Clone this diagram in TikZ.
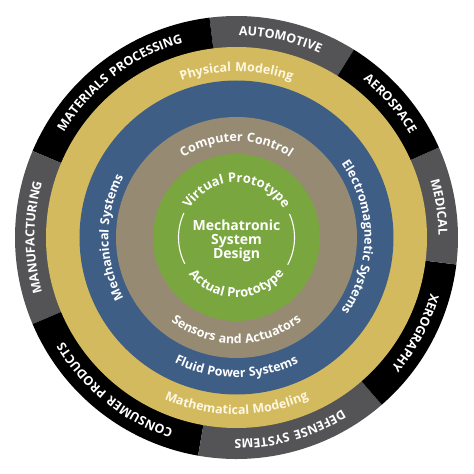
\documentclass[tikz,border=0pt]{standalone}
\usepackage{fontspec}
\setmainfont{Open Sans}
\newfontfamily\ringfont{Open Sans}[LetterSpace=12]
\newfontfamily\bandfont{Open Sans}[LetterSpace=4]
\usepackage{tikz}
\usetikzlibrary{decorations.text}
\definecolor{SegBlack}{RGB}{0,0,0}
\definecolor{SegGray}{RGB}{84,84,86}
\definecolor{Gold}{RGB}{212,186,94}
\definecolor{Slate}{RGB}{62,94,134}
\definecolor{Taupe}{RGB}{150,138,114}
\definecolor{Leaf}{RGB}{122,166,64}
\definecolor{Cream}{RGB}{255,248,225}
\newcommand\outerfmt{\ringfont\bfseries\fontsize{12.5}{12.5}\selectfont\color{white}}
\newcommand\ringfmt{\bandfont\bfseries\fontsize{12.5}{12.5}\selectfont\color{white}}
\newcommand\goldfmt{\bandfont\bfseries\fontsize{12.5}{12.5}\selectfont\color{Cream}}
\newcommand\leaffmt{\bandfont\bfseries\fontsize{13}{13}\selectfont\color{white}}

\begin{document}
\begin{tikzpicture}[x=1pt, y=1pt,
	arctext/.style={decorate, decoration={text along path, text align=center, text={#1}}}]
	\useasboundingbox (-236.5,-236.5) rectangle (237.5,237.5);
	\fill[SegGray] (0,0) -- (58:221.5pt) arc[start angle=58, end angle=97, radius=221.5pt] -- cycle;
	\fill[SegBlack] (0,0) -- (97:221.5pt) arc[start angle=97, end angle=157, radius=221.5pt] -- cycle;
	\fill[SegGray] (0,0) -- (157:221.5pt) arc[start angle=157, end angle=203, radius=221.5pt] -- cycle;
	\fill[SegBlack] (0,0) -- (203:221.5pt) arc[start angle=203, end angle=260, radius=221.5pt] -- cycle;
	\fill[SegGray] (0,0) -- (260:221.5pt) arc[start angle=260, end angle=311, radius=221.5pt] -- cycle;
	\fill[SegBlack] (0,0) -- (311:221.5pt) arc[start angle=311, end angle=353, radius=221.5pt] -- cycle;
	\fill[SegGray] (0,0) -- (353:221.5pt) arc[start angle=353, end angle=384, radius=221.5pt] -- cycle;
	\fill[SegBlack] (0,0) -- (24:221.5pt) arc[start angle=24, end angle=58, radius=221.5pt] -- cycle;
	\fill[Gold] (0,0) circle[radius=190.5pt];
	\fill[Slate] (0,0) circle[radius=157pt];
	\fill[Taupe] (0,0) circle[radius=120.5pt];
	\fill[Leaf] (0,0) circle[radius=83.5pt];

	\path[arctext={|\outerfmt|AUTOMOTIVE}] (97:202pt) arc[start angle=97, end angle=58, radius=202pt];
	\path[arctext={|\outerfmt|MATERIALS PROCESSING}] (157:202pt) arc[start angle=157, end angle=97, radius=202pt];
	\path[arctext={|\outerfmt|MANUFACTURING}] (203:202pt) arc[start angle=203, end angle=157, radius=202pt];
	\path[arctext={|\outerfmt|CONSUMER PRODUCTS}] (260:202pt) arc[start angle=260, end angle=203, radius=202pt];
	\path[arctext={|\outerfmt|DEFENSE SYSTEMS}] (311:202pt) arc[start angle=311, end angle=260, radius=202pt];
	\path[arctext={|\outerfmt|XEROGRAPHY}] (353:202pt) arc[start angle=353, end angle=311, radius=202pt];
	\path[arctext={|\outerfmt|MEDICAL}] (24:202pt) arc[start angle=24, end angle=-7, radius=202pt];
	\path[arctext={|\outerfmt|AEROSPACE}] (58:202pt) arc[start angle=58, end angle=24, radius=202pt];

	\path[arctext={|\goldfmt|Physical Modeling}] (150:166pt) arc[start angle=150, end angle=30, radius=166pt];
	\path[arctext={|\goldfmt|Mathematical Modeling}] (210:177pt) arc[start angle=210, end angle=330, radius=177pt];
	\path[arctext={|\ringfmt|Mechanical Systems}] (250:128pt) arc[start angle=250, end angle=110, radius=128pt];
	\path[arctext={|\ringfmt|Electromagnetic Systems}] (75:128pt) arc[start angle=75, end angle=-75, radius=128pt];
	\path[arctext={|\ringfmt|Fluid Power Systems}] (200:140pt) arc[start angle=200, end angle=340, radius=140pt];
	\path[arctext={|\ringfmt|Computer Control}] (160:96pt) arc[start angle=160, end angle=20, radius=96pt];
	\path[arctext={|\ringfmt|Sensors and Actuators}] (190:106pt) arc[start angle=190, end angle=350, radius=106pt];
	\path[arctext={|\leaffmt|Virtual Prototype}] (170:55pt) arc[start angle=170, end angle=10, radius=55pt];
	\path[arctext={|\leaffmt|Actual Prototype}] (190:60pt) arc[start angle=190, end angle=350, radius=60pt];

	\draw[white, line width=1.1pt] (155:58pt) arc[start angle=155, end angle=207, radius=58pt];
	\draw[white, line width=1.1pt] (-28:58pt) arc[start angle=-28, end angle=24, radius=58pt];
	\node[align=center, text=white, font=\bfseries\fontsize{14}{14}\selectfont] (design) at (0,-3) {Mechatronic\\System\\Design};
\end{tikzpicture}
\end{document}
